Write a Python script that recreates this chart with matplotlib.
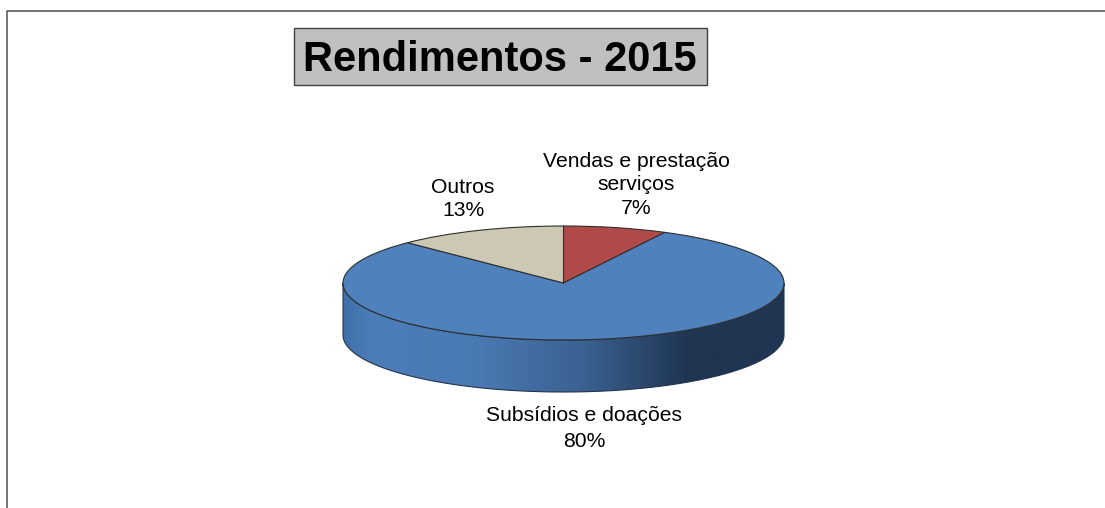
import numpy as np
import matplotlib
matplotlib.use('Agg')
from matplotlib import pyplot as plt
from matplotlib.colors import LinearSegmentedColormap
from matplotlib.lines import Line2D
from matplotlib.patches import PathPatch, Rectangle
from matplotlib.path import Path

plt.rcParams['font.family'] = ['Liberation Sans', 'DejaVu Sans']

categories = ['Vendas e prestação\nserviços', 'Subsídios e doações', 'Outros']
# the slices are a bit off the printed percent in the picture, labels are rounded
shares = [7.6, 79.9, 12.5]
shown_pct = [7, 80, 13]
slice_colors = ['#B04A48', '#4F81BD', '#CCC8B4']
title = 'Rendimentos - 2015'

W, H = 1105, 508
cx, cy, rx, ry, depth = 563.5, 283, 220.5, 57, 52


def fx(px):
    return px / W


def fy(py):
    return 1 - py / H


fig = plt.figure(figsize=(W / 100, H / 100), dpi=100, facecolor='white')
ax = fig.add_axes([0, 0, 1, 1])

wedges, _ = ax.pie(shares, colors=slice_colors, startangle=90, counterclock=False,
                   radius=1, center=(0, 0), frame=True,
                   wedgeprops={'edgecolor': '#2f2f2f', 'linewidth': 0.8, 'zorder': 3})
ax.set_aspect('auto')
ax.axis('off')

# side wall of the disc with the left to right shading
d = depth / ry
t = np.linspace(np.pi, 2 * np.pi, 200)
xs = np.cos(t)
ys = np.sin(t)
verts = np.concatenate([np.column_stack([xs, ys]),
                        np.column_stack([xs[::-1], ys[::-1] - d])])
verts = np.vstack([verts, verts[0]])
codes = [Path.MOVETO] + [Path.LINETO] * (len(verts) - 2) + [Path.CLOSEPOLY]
side = PathPatch(Path(verts, codes), facecolor='none', edgecolor='#22344e', linewidth=0.8, zorder=2)
ax.add_patch(side)

shade = LinearSegmentedColormap.from_list('side', [(0, '#3F6FA8'), (0.06, '#4C7DB8'), (0.3, '#4A7AB4'),
                                                   (0.55, '#3A6090'), (0.78, '#203552'), (1, '#1F3552')])
img = ax.imshow(np.linspace(0, 1, 256).reshape(1, -1), cmap=shade, aspect='auto',
                extent=[-1, 1, -1 - d, 0], zorder=1)
img.set_clip_path(side)
ax.set_xlim(-cx / rx, (W - cx) / rx)
ax.set_ylim((cy - H) / ry, cy / ry)

# labels
fig.text(fx(636.5), fy(185), f'{categories[0]}\n{shown_pct[0]}%', ha='center', va='center',
         fontsize=15.2, linespacing=1.3, color='black')
fig.text(fx(584), fy(428.5), f'{categories[1]}\n{shown_pct[1]}%', ha='center', va='center',
         fontsize=15.2, linespacing=1.42, color='black')
fig.text(fx(463), fy(199), f'{categories[2]}\n{shown_pct[2]}%', ha='center', va='center',
         fontsize=15.2, linespacing=1.28, color='black')

# title box
fig.add_artist(Rectangle((fx(293.5), fy(85)), 413 / W, 57 / H, transform=fig.transFigure,
                         facecolor='#C0C0C0', edgecolor='#404040', linewidth=1.0))
fig.text(fx(500), fy(60), title, ha='center', va='center', fontsize=30, fontweight='bold', color='black')

# outer chart border, only left and top are on the picture
fig.add_artist(Line2D([fx(7), fx(7), 1], [0, fy(10.5), fy(10.5)], transform=fig.transFigure,
                      color='#505050', linewidth=1.1))

fig.savefig('out.png', dpi=100)
